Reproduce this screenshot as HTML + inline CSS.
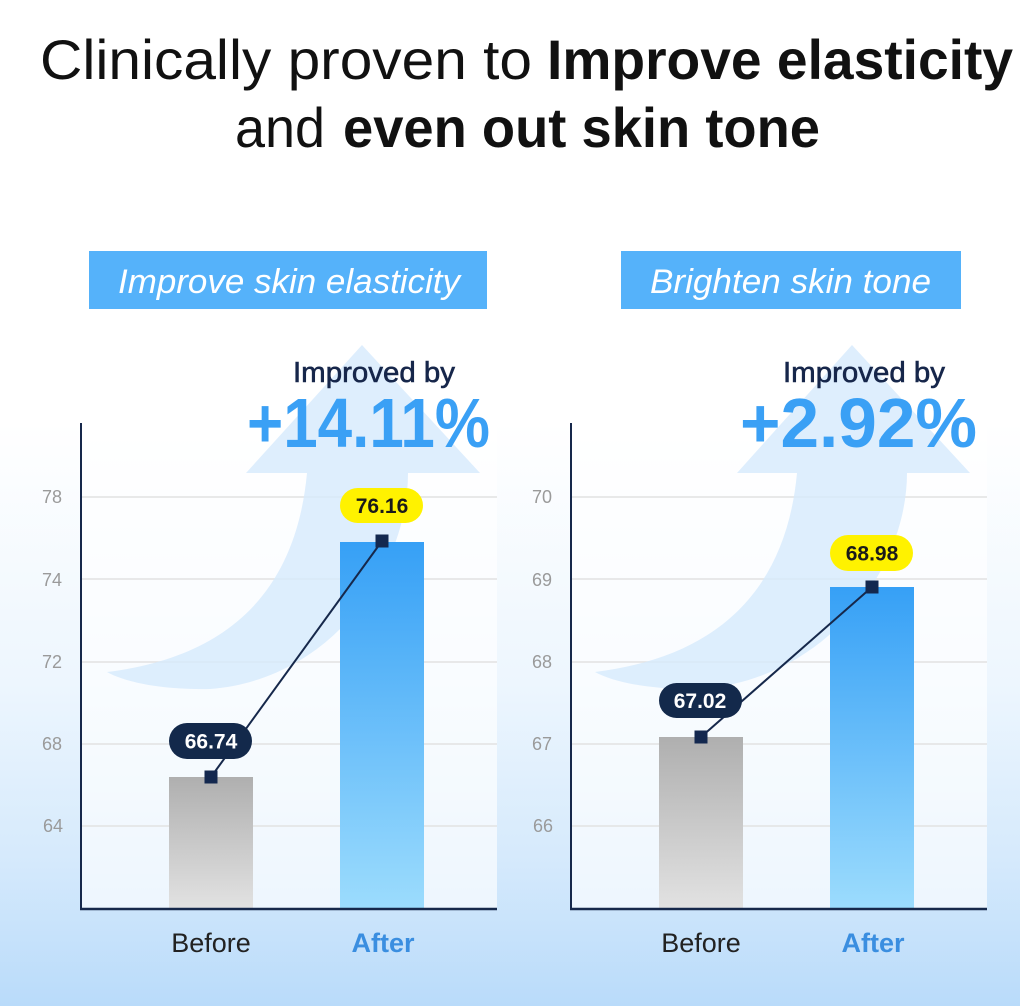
<!DOCTYPE html>
<html><head><meta charset="utf-8"><style>
html,body{margin:0;padding:0;background:#fff;}
svg{display:block;}
text{font-family:"Liberation Sans",Arial,sans-serif;}
</style></head><body>
<svg width="1020" height="1006" viewBox="0 0 1020 1006" xmlns="http://www.w3.org/2000/svg">
<defs>
<linearGradient id="bg" x1="0" y1="0" x2="0" y2="1">
<stop offset="0" stop-color="#ffffff"/>
<stop offset="0.42" stop-color="#ffffff"/>
<stop offset="0.68" stop-color="#edf6fe"/>
<stop offset="0.85" stop-color="#d6eafc"/>
<stop offset="1" stop-color="#b9dbfa"/>
</linearGradient>
<linearGradient id="gray" x1="0" y1="0" x2="0" y2="1">
<stop offset="0" stop-color="#afafaf"/>
<stop offset="1" stop-color="#e2e2e2"/>
</linearGradient>
<linearGradient id="blue" x1="0" y1="0" x2="0" y2="1">
<stop offset="0" stop-color="#36a0f6"/>
<stop offset="1" stop-color="#9cdcfd"/>
</linearGradient>
</defs>
<rect x="0" y="0" width="1020" height="1006" fill="url(#bg)"/>

<!-- Title -->
<text x="40" y="79" font-size="56" fill="#111" textLength="492" lengthAdjust="spacingAndGlyphs">Clinically proven to</text>
<text x="547" y="79" font-size="56" font-weight="bold" fill="#111" textLength="466" lengthAdjust="spacingAndGlyphs">Improve elasticity</text>
<text x="235" y="147" font-size="56" fill="#111" textLength="90" lengthAdjust="spacingAndGlyphs">and</text>
<text x="343" y="147" font-size="56" font-weight="bold" fill="#111" textLength="477" lengthAdjust="spacingAndGlyphs">even out skin tone</text>

<!-- Header boxes -->
<rect x="89" y="251" width="398" height="58" fill="#55b2fa"/>
<text x="118" y="293" font-size="34" font-style="italic" fill="#fff" textLength="342" lengthAdjust="spacingAndGlyphs">Improve skin elasticity</text>
<rect x="621" y="251" width="340" height="58" fill="#55b2fa"/>
<text x="650" y="293" font-size="34" font-style="italic" fill="#fff" textLength="281" lengthAdjust="spacingAndGlyphs">Brighten skin tone</text>

<!-- Plot panels -->
<rect x="81" y="423" width="416" height="486" fill="#ffffff" opacity="0.65"/>
<rect x="571" y="423" width="416" height="486" fill="#ffffff" opacity="0.65"/>

<!-- Gridlines -->
<g stroke="#e2e2e2" stroke-width="1.5">
<line x1="82" y1="497" x2="497" y2="497"/>
<line x1="82" y1="579" x2="497" y2="579"/>
<line x1="82" y1="662" x2="497" y2="662"/>
<line x1="82" y1="744" x2="497" y2="744"/>
<line x1="82" y1="826" x2="497" y2="826"/>
<line x1="572" y1="497" x2="987" y2="497"/>
<line x1="572" y1="579" x2="987" y2="579"/>
<line x1="572" y1="662" x2="987" y2="662"/>
<line x1="572" y1="744" x2="987" y2="744"/>
<line x1="572" y1="826" x2="987" y2="826"/>
</g>

<!-- Arrows -->
<path d="M362,345 L480,473 L408,473 C408,570 330,680 210,689 C160,690 125,682 107,672 C229,657 296,591 307,473 L246,473 Z" fill="#d6eafc" opacity="0.8"/>
<path d="M852,345 L970,473 L907,473 C907,570 825,680 700,689 C650,690 613,682 595,672 C717,657 786,591 797,473 L737,473 Z" fill="#d6eafc" opacity="0.8"/>

<!-- Improved by -->
<text x="293" y="382" font-size="29" fill="#16264a" stroke="#16264a" stroke-width="0.6" textLength="162" lengthAdjust="spacingAndGlyphs">Improved by</text>
<text x="247" y="447" font-size="70" font-weight="bold" fill="#3aa0f5" textLength="243" lengthAdjust="spacingAndGlyphs">+14.11%</text>
<text x="783" y="382" font-size="29" fill="#16264a" stroke="#16264a" stroke-width="0.6" textLength="162" lengthAdjust="spacingAndGlyphs">Improved by</text>
<text x="740" y="447" font-size="70" font-weight="bold" fill="#3aa0f5" textLength="237" lengthAdjust="spacingAndGlyphs">+2.92%</text>

<!-- Tick labels -->
<g font-size="18" fill="#9a9a9a" text-anchor="end">
<text x="62" y="503">78</text>
<text x="62" y="586">74</text>
<text x="62" y="668">72</text>
<text x="62" y="750">68</text>
<text x="63" y="832">64</text>
<text x="552" y="503">70</text>
<text x="552" y="586">69</text>
<text x="552" y="668">68</text>
<text x="552" y="750">67</text>
<text x="553" y="832">66</text>
</g>

<!-- Bars -->
<rect x="169" y="777" width="84" height="132" fill="url(#gray)"/>
<rect x="340" y="542" width="84" height="367" fill="url(#blue)"/>
<rect x="659" y="737" width="84" height="172" fill="url(#gray)"/>
<rect x="830" y="587" width="84" height="322" fill="url(#blue)"/>

<!-- Axes -->
<g stroke="#16284b">
<line x1="81" y1="423" x2="81" y2="910" stroke-width="2"/>
<line x1="80" y1="909" x2="497" y2="909" stroke-width="2.5"/>
<line x1="571" y1="423" x2="571" y2="910" stroke-width="2"/>
<line x1="570" y1="909" x2="987" y2="909" stroke-width="2.5"/>
</g>

<!-- Connecting lines -->
<line x1="211" y1="777" x2="382" y2="541" stroke="#16284b" stroke-width="2"/>
<line x1="701" y1="737" x2="872" y2="587" stroke="#16284b" stroke-width="2"/>

<!-- Value pills -->
<rect x="169" y="723" width="83" height="36" rx="18" fill="#13294b"/>
<text x="211" y="748.5" font-size="21" font-weight="bold" fill="#fff" text-anchor="middle">66.74</text>
<rect x="340" y="488" width="83" height="35" rx="17.5" fill="#fff200"/>
<text x="382" y="513" font-size="21" font-weight="bold" fill="#1a1a1a" text-anchor="middle">76.16</text>
<rect x="659" y="683" width="83" height="35" rx="17.5" fill="#13294b"/>
<text x="700" y="708" font-size="21" font-weight="bold" fill="#fff" text-anchor="middle">67.02</text>
<rect x="830" y="535" width="83" height="36" rx="18" fill="#fff200"/>
<text x="872" y="560.5" font-size="21" font-weight="bold" fill="#1a1a1a" text-anchor="middle">68.98</text>

<!-- Markers -->
<g fill="#13284f">
<rect x="204.5" y="770.5" width="13" height="13"/>
<rect x="375.5" y="534.5" width="13" height="13"/>
<rect x="694.5" y="730.5" width="13" height="13"/>
<rect x="865.5" y="580.5" width="13" height="13"/>
</g>

<!-- X labels -->
<text x="211" y="952" font-size="27" fill="#222" text-anchor="middle">Before</text>
<text x="383" y="952" font-size="27" font-weight="bold" fill="#3a8ee0" text-anchor="middle">After</text>
<text x="701" y="952" font-size="27" fill="#222" text-anchor="middle">Before</text>
<text x="873" y="952" font-size="27" font-weight="bold" fill="#3a8ee0" text-anchor="middle">After</text>
</svg>
</body></html>
